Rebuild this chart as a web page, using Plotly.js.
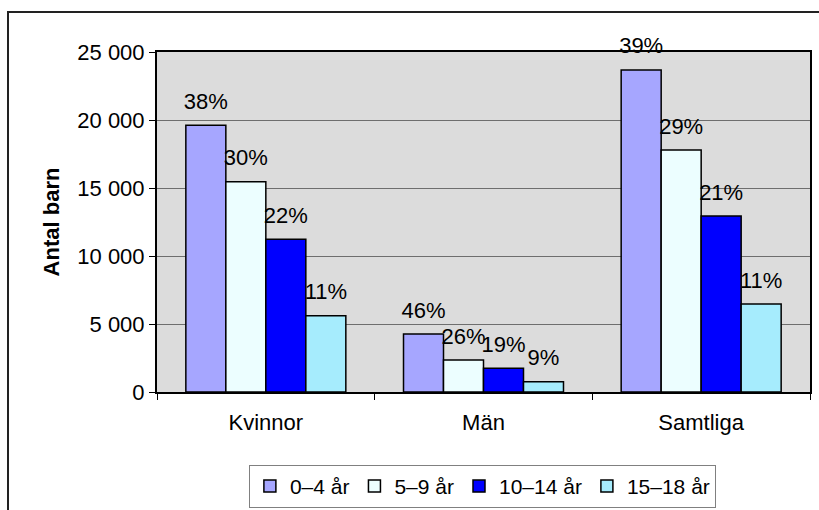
<!DOCTYPE html>
<html>
<head>
<meta charset="utf-8">
<script src="https://cdn.plot.ly/plotly-3.0.1.min.js"></script>
<style>html,body{margin:0;padding:0;background:#fff;overflow:hidden;}#wrap{position:relative;width:819px;height:510px;overflow:hidden;}#chart{width:819px;height:510px;}#frame{position:absolute;left:7px;top:11px;width:900px;height:600px;border:2px solid #222;pointer-events:none;box-sizing:border-box;}</style>
</head>
<body>
<div id="wrap"><div id="chart"></div><div id="frame"></div></div>
<script>
var categories = ["Kvinnor", "Män", "Samtliga"];
var seriesNames = ["0–4 år", "5–9 år", "10–14 år", "15–18 år"];
var age0_4 = [19610, 4260, 23680];
var age5_9 = [15460, 2350, 17790];
var age10_14 = [11230, 1740, 12940];
var age15_18 = [5610, 760, 6470];
var pct0_4 = ["38%", "46%", "39%"];
var pct5_9 = ["30%", "26%", "29%"];
var pct10_14 = ["22%", "19%", "21%"];
var pct15_18 = ["11%", "9%", "11%"];
var yTicks = [0, 5000, 10000, 15000, 20000, 25000];

var colors = ["#A6A6FF", "#ECFEFF", "#0000FF", "#A6ECFD"];
var values = [age0_4, age5_9, age10_14, age15_18];
var texts = [pct0_4, pct5_9, pct10_14, pct15_18];
var FONT = "Liberation Sans, Arial, sans-serif";
var FS = 22;

var data = values.map(function(v, i) {
  return {
    type: "bar",
    name: seriesNames[i],
    x: categories,
    y: v,
    offsetgroup: "g" + i,
    marker: {color: colors[i], line: {color: "#000", width: 1.5}},
    hoverinfo: "none"
  };
});
values.forEach(function(v, i) {
  data.push({
    type: "scatter",
    mode: "markers+text",
    x: categories,
    y: v,
    offsetgroup: "g" + i,
    orientation: "v",
    text: texts[i],
    textposition: "top center",
    textfont: {family: FONT, size: FS, color: "#000"},
    marker: {size: 16, color: "rgba(0,0,0,0)"},
    cliponaxis: false,
    showlegend: false,
    hoverinfo: "none"
  });
});

var layout = {
  width: 819, height: 510,
  margin: {l: 157, r: 9, t: 52, b: 118},
  paper_bgcolor: "#fff",
  plot_bgcolor: "#DCDCDC",
  separators: ", ",
  barmode: "group",
  bargap: 0.265,
  bargroupgap: 0,
  scattermode: "group",
  scattergap: 0.265,
  showlegend: true,
  font: {family: FONT, size: FS, color: "#000"},
  xaxis: {
    type: "category",
    showline: true, linecolor: "#000", linewidth: 2, mirror: true,
    ticks: "outside", tickson: "boundaries", ticklen: 6, tickcolor: "#000",
    tickfont: {family: FONT, size: FS, color: "#000"},
    showgrid: false, zeroline: false,
    ticklabelstandoff: 10
  },
  yaxis: {
    range: [0, 25000],
    tickvals: yTicks,
    tickformat: ",d",
    showline: true, linecolor: "#000", linewidth: 2, mirror: true,
    ticks: "outside", ticklen: 6, tickcolor: "#000",
    tickfont: {family: FONT, size: FS, color: "#000"},
    showgrid: true, gridcolor: "#6E6E6E", gridwidth: 1,
    zeroline: false,
    title: {text: "<b>Antal barn</b>", font: {family: FONT, size: FS, color: "#000"}, standoff: 12}
  },
  legend: {
    orientation: "h",
    xref: "container", yref: "container",
    x: 0.589, xanchor: "center",
    y: 0.004, yanchor: "bottom",
    bordercolor: "#808080", borderwidth: 1,
    font: {family: FONT, size: 21, color: "#000"},
    itemwidth: 30,
    tracegroupgap: 0,
    traceorder: "normal"
  }
};

Plotly.newPlot("chart", data, layout, {displayModeBar: false, staticPlot: true});
</script>
</body>
</html>
